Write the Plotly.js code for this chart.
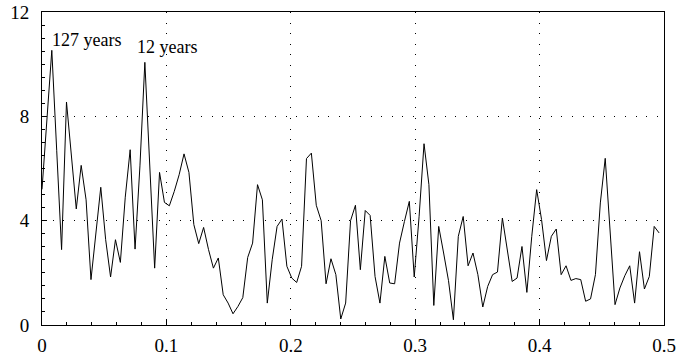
<!DOCTYPE html>
<html>
<head>
<meta charset="utf-8">
<script src="https://cdn.plot.ly/plotly-3.0.1.min.js"></script>
<style>html,body{margin:0;padding:0;background:#fff;}#chart{width:691px;height:358px;}</style>
</head>
<body>
<div id="chart"></div>
<script>
// Frequency index k (frequency = k / 254) and spectral power values
const harmonics = [];
for (let k = 0; k <= 126; k++) harmonics.push(k);
const frequency = harmonics.map(k => k / 254);
const power = [
  5.2, 7.9, 10.53, 6.7, 2.89, 8.55, 6.5, 4.45, 6.12, 4.8,
  1.74, 3.5, 5.28, 3.27, 1.84, 3.27, 2.4, 4.9, 6.72, 2.91,
  6.1, 10.07, 6.0, 2.18, 5.85, 4.70, 4.57, 5.12, 5.76, 6.56,
  5.85, 3.85, 3.12, 3.74, 2.89, 2.18, 2.57, 1.16, 0.84, 0.43,
  0.71, 1.05, 2.59, 3.14, 5.38, 4.8, 0.84, 2.5, 3.78, 4.06,
  2.25, 1.80, 1.63, 2.25, 6.38, 6.59, 4.59, 4.0, 1.58, 2.54,
  1.93, 0.23, 0.84, 4.0, 4.59, 2.12, 4.39, 4.2, 1.86, 0.84,
  2.63, 1.61, 1.58, 3.14, 3.97, 4.74, 1.84, 4.17, 6.95, 5.38,
  0.75, 3.78, 2.76, 1.7, 0.2, 3.4, 4.16, 2.27, 2.76, 1.93,
  0.69, 1.48, 1.93, 2.03, 4.1, 2.89, 1.67, 1.8, 3.01, 1.25,
  3.4, 5.19, 4.04, 2.47, 3.40, 3.68, 1.93, 2.27, 1.71, 1.78,
  1.74, 0.91, 1.0, 1.93, 4.68, 6.39, 3.7, 0.78, 1.42, 1.89,
  2.27, 0.84, 2.81, 1.38, 1.86, 3.78, 3.53
];
const xTickVals = [0, 0.1, 0.2, 0.3, 0.4, 0.5];
const xTickText = ["0", "0.1", "0.2", "0.3", "0.4", "0.5"];
const yTickVals = [0, 4, 8, 12];
const yTickText = ["0", "4", "8", "12"];
const peakLabels = ["127 years", "12 years"];
const peakLabelX = [0.0062, 0.0745];
const peakLabelY = [10.92, 10.67];

const serif = "Liberation Serif";

const trace = {
  x: frequency, y: power, type: "scatter", mode: "lines",
  line: {color: "#000", width: 1},
  hoverinfo: "skip"
};

const layout = {
  width: 691, height: 358,
  margin: {l: 41.8, r: 27.2, t: 12.4, b: 32.7, pad: 0},
  paper_bgcolor: "#fff", plot_bgcolor: "#fff",
  showlegend: false,
  font: {family: serif, size: 18, color: "#000"},
  xaxis: {
    range: [0, 0.5], tickvals: xTickVals, ticktext: xTickText,
    ticks: "inside", ticklen: 5, tickwidth: 1, tickcolor: "#000",
    showline: true, linecolor: "#000", linewidth: 1, mirror: true,
    showgrid: true, gridcolor: "#000", gridwidth: 1, griddash: "1px,9.6px",
    zeroline: false, ticklabelstandoff: 3,
    tickfont: {family: serif, size: 19, color: "#000"},
    minor: {dtick: 0.02, ticks: "inside", ticklen: 3, tickcolor: "#000", tickwidth: 1, showgrid: false}
  },
  yaxis: {
    range: [0, 12], tickvals: yTickVals, ticktext: yTickText,
    ticks: "inside", ticklen: 5, tickwidth: 1, tickcolor: "#000",
    showline: true, linecolor: "#000", linewidth: 1, mirror: true,
    showgrid: true, gridcolor: "#000", gridwidth: 1, griddash: "1px,9.6px",
    zeroline: false, ticklabelstandoff: 8,
    tickfont: {family: serif, size: 19, color: "#000"},
    minor: {dtick: 0.5, ticks: "inside", ticklen: 3, tickcolor: "#000", tickwidth: 1, showgrid: false}
  },
  annotations: peakLabels.map((t, i) => ({
    text: t, x: peakLabelX[i], y: peakLabelY[i], xref: "x", yref: "y",
    xanchor: "left", yanchor: "middle", showarrow: false,
    font: {family: serif, size: 18, color: "#000"}
  }))
};

Plotly.newPlot("chart", [trace], layout, {staticPlot: true, displayModeBar: false});
</script>
</body>
</html>
